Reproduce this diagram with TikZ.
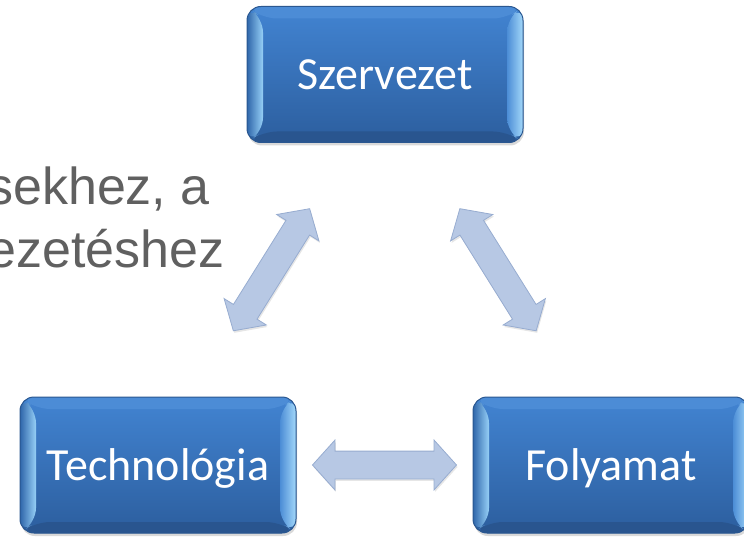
\documentclass[tikz,border=0pt]{standalone}
\usepackage{fontspec}
\setmainfont{Liberation Sans}
\newfontfamily\boxfont{Carlito}
\usetikzlibrary{shapes.arrows, shadows, calc}

\definecolor{boxtop}{HTML}{4284D2}
\definecolor{boxbot}{HTML}{2C5E9E}
\definecolor{boxedge}{HTML}{2A5790}
\definecolor{bevtop}{HTML}{4C8CD6}
\definecolor{bevbot}{HTML}{29558F}
\definecolor{bevlo}{HTML}{2F66AA}
\definecolor{bevli}{HTML}{96D0F7}
\definecolor{bevro}{HTML}{A3D8FA}
\definecolor{bevri}{HTML}{4C8DD6}
\definecolor{arrfill}{HTML}{B7C8E4}
\definecolor{arredge}{HTML}{97ACD0}
\definecolor{sidegray}{HTML}{606060}

\begin{document}
\begin{tikzpicture}[
    x=1pt, y=-1pt,
    cbox/.style={rectangle, rounded corners=14pt, minimum width=276pt, minimum height=136pt,
        inner sep=0pt, draw=boxedge, line width=1pt, top color=boxtop, bottom color=boxbot,
        text=white, font=\boxfont\fontsize{46}{55}\selectfont, text height=30pt, text depth=0pt,
        drop shadow={shadow xshift=1pt, shadow yshift=-3pt, opacity=0.3},
        path picture={
            \path (path picture bounding box.north west) coordinate (pNW)
                  (path picture bounding box.south east) coordinate (pSE);
            \coordinate (pNE) at (pSE |- pNW);
            \coordinate (pSW) at (pNW |- pSE);
            \coordinate (iNW) at ($(pNW)+(16pt,-12pt)$);
            \coordinate (iSE) at ($(pSE)+(-16pt,11pt)$);
            \coordinate (iNE) at (iSE |- iNW);
            \coordinate (iSW) at (iNW |- iSE);
            \fill[bevtop] (pNW) -- (pNE) -- (iNE) -- (iNW) -- cycle;
            \fill[bevbot] (pSW) -- (iSW) -- (iSE) -- (pSE) -- cycle;
            \shade[left color=bevlo, right color=bevli] (pNW) -- (iNW) -- (iSW) -- (pSW) -- cycle;
            \shade[left color=bevri, right color=bevro] (pNE) -- (pSE) -- (iSE) -- (iNE) -- cycle;
        }},
    darrow/.style={double arrow, double arrow tip angle=96, double arrow head extend=11pt,
        minimum height=144pt, inner xsep=0pt, inner ysep=13.5pt,
        fill=arrfill, draw=arredge, line width=0.8pt,
        drop shadow={shadow xshift=1pt, shadow yshift=-2pt, opacity=0.2}},
    sidetext/.style={anchor=base west, inner sep=0pt, text=sidegray,
        font=\fontsize{52}{60}\selectfont}
]
\useasboundingbox (0,0) rectangle (744,537);
%% text cut off at the left edge
\node[sidetext] (side1) at (-13,205) {sekhez, a};
\node[sidetext] (side2) at (-13,268) {ezetéshez};
% --- The three boxes ---
\node[cbox] (szervezet)   at (385,74.5) {Szervezet};
\node[cbox] (technologia) at (158,465)  {Technológia};
\node[cbox] (folyamat)    at (611,465)  {Folyamat};
% --- Double arrows between the boxes ---
\node[darrow, rotate=58]  (arrST) at ($(szervezet)!0.5!(technologia)$) {};
\node[darrow, rotate=-58] (arrSF) at ($(szervezet)!0.5!(folyamat)$) {};
\node[darrow]             (arrTF) at ($(technologia)!0.5!(folyamat)$) {};
\end{tikzpicture}
\end{document}
